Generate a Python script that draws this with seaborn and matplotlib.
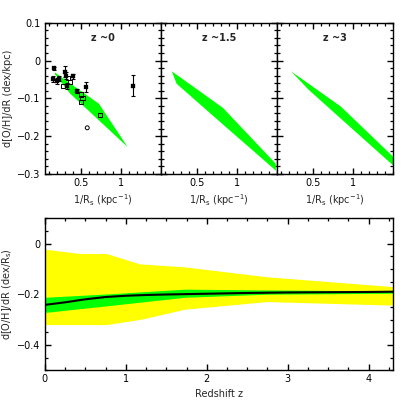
import numpy as np
import pandas as pd
import seaborn as sns
import matplotlib
matplotlib.use("Agg")
import matplotlib.pyplot as plt
from matplotlib.ticker import MultipleLocator, FixedLocator

# --- top panels: gradient vs 1/Rs, bands ---
titles = ['z ~0', 'z ~1.5', 'z ~3']
band_x = [[0.17, 0.36, 0.72, 1.08],
          [0.18, 0.24, 0.82, 1.48],
          [0.22, 0.44, 0.84, 1.50]]
band_hi = [[-0.030, -0.059, -0.113, -0.228],
           [-0.027, -0.036, -0.124, -0.272],
           [-0.027, -0.060, -0.120, -0.254]]
band_lo = [[-0.035, -0.086, -0.157, -0.228],
           [-0.027, -0.060, -0.168, -0.290],
           [-0.027, -0.076, -0.152, -0.277]]

# local galaxies (z ~ 0)
obs_x = [0.16, 0.155, 0.196, 0.23, 0.30, 0.31, 0.325, 0.40, 0.45, 0.56, 1.15]
obs_y = [-0.020, -0.049, -0.054, -0.048, -0.029, -0.040, -0.067, -0.042, -0.080, -0.070, -0.067]
obs_err = [0.004, 0.008, 0.008, 0.006, 0.015, 0.010, 0.008, 0.006, 0.006, 0.013, 0.028]
open_x = [0.28, 0.36, 0.34, 0.50, 0.52, 0.50, 0.74]
open_y = [-0.067, -0.056, -0.045, -0.090, -0.100, -0.110, -0.143]
circ_x = [0.58]
circ_y = [-0.178]

# --- bottom panel: gradient vs redshift ---
yel_z = [0.0, 0.43, 0.76, 1.17, 1.73, 2.74, 4.3]
yel_hi = [-0.022, -0.039, -0.039, -0.080, -0.092, -0.131, -0.170]
yel_lo_z = [0.0, 0.76, 1.2, 1.73, 2.74, 4.3]
yel_lo = [-0.320, -0.320, -0.298, -0.259, -0.229, -0.243]
grn_z = [0.0, 0.76, 1.73, 2.74, 4.3]
grn_hi = [-0.212, -0.199, -0.180, -0.183, -0.187]
grn_lo = [-0.272, -0.246, -0.212, -0.200, -0.196]
line_z = [0.0, 0.25, 0.5, 0.75, 1.0, 1.25, 1.5, 2.0, 2.5, 3.0, 3.5, 4.0, 4.3]
line_y = [-0.242, -0.232, -0.220, -0.211, -0.206, -0.203, -0.201, -0.198, -0.195, -0.193, -0.192, -0.191, -0.190]

sns.set_style("ticks")
plt.rcParams['font.family'] = ['DejaVu Sans']
plt.rcParams['font.size'] = 7
plt.rcParams['mathtext.default'] = 'regular'
plt.rcParams['xtick.minor.visible'] = True
plt.rcParams['ytick.minor.visible'] = True

fig = plt.figure(figsize=(4.15, 4.15), dpi=100)
fig.patch.set_facecolor('white')

green = '#00ff00'
yellow = '#ffff00'


def style_ax(ax, xmaj, xmin, ymaj, ymin):
    ax.xaxis.set_major_locator(FixedLocator(xmaj))
    ax.xaxis.set_minor_locator(MultipleLocator(xmin))
    ax.yaxis.set_major_locator(FixedLocator(ymaj))
    ax.yaxis.set_minor_locator(MultipleLocator(ymin))
    ax.tick_params(which='both', direction='in', top=True, right=True,
                   bottom=True, left=True, colors='black', labelsize=7, pad=3)
    ax.tick_params(which='major', length=4.5, width=1.0)
    ax.tick_params(which='minor', length=2.2, width=0.9)
    for s in ax.spines.values():
        s.set_linewidth(1.0)
        s.set_color('black')


left, right = 0.108, 0.947
w = (right - left) / 3
for i in range(3):
    ax = fig.add_axes([left + i * w, 0.581, w, 0.364])
    ax.fill_between(band_x[i], band_lo[i], band_hi[i], color=green, lw=0)
    if i == 0:
        ax.errorbar(obs_x, obs_y, yerr=obs_err, fmt='none', ecolor='black',
                    elinewidth=0.8, capsize=1.5, capthick=0.8)
        sns.scatterplot(x=obs_x, y=obs_y, ax=ax, marker='s', s=8,
                        color='black', edgecolor='black', zorder=3)
        sns.scatterplot(x=open_x, y=open_y, ax=ax, marker='s', s=9,
                        facecolor='none', edgecolor='black', linewidth=0.7, zorder=3)
        sns.scatterplot(x=circ_x, y=circ_y, ax=ax, marker='o', s=8,
                        facecolor='none', edgecolor='black', linewidth=0.7, zorder=3)
        ax.set_ylabel('d[O/H]/dR (dex/kpc)', fontsize=7, labelpad=3)
    ax.set_xlim(0.05, 1.5)
    ax.set_ylim(-0.3, 0.1)
    style_ax(ax, [0.5, 1.0], 0.1, [0.1, 0, -0.1, -0.2, -0.3], 0.02)
    ax.set_xticklabels(['0.5', '1'])
    if i == 0:
        ax.set_yticklabels(['0.1', '0', '\u22120.1', '\u22120.2', '\u22120.3'])
    else:
        ax.set_yticklabels([])
    ax.set_xlabel('1/R$_s$ (kpc$^{-1}$)', fontsize=7, labelpad=3)
    ax.text(0.5, 0.9, titles[i], transform=ax.transAxes, ha='center',
            va='center', fontsize=7, fontweight='bold')

# bottom panel
axb = fig.add_axes([left, 0.108, right - left, 0.366])
yz = np.linspace(0, 4.3, 200)
axb.fill_between(yz, np.interp(yz, yel_lo_z, yel_lo), np.interp(yz, yel_z, yel_hi),
                 color=yellow, lw=0)
axb.fill_between(grn_z, grn_lo, grn_hi, color=green, lw=0)
df = pd.DataFrame({'z': line_z, 'grad': line_y})
sns.lineplot(data=df, x='z', y='grad', ax=axb, color='black', lw=1.5)
axb.set_xlim(0, 4.3)
axb.set_ylim(-0.5, 0.1)
style_ax(axb, [0, 1, 2, 3, 4], 0.25, [0, -0.2, -0.4], 0.05)
axb.set_xticklabels(['0', '1', '2', '3', '4'])
axb.set_yticklabels(['0', '\u22120.2', '\u22120.4'])
axb.set_xlabel('Redshift z', fontsize=7, labelpad=3)
axb.set_ylabel('d[O/H]/dR (dex/R$_s$)', fontsize=7, labelpad=2)

fig.savefig('out.png', dpi=100, facecolor='white')
